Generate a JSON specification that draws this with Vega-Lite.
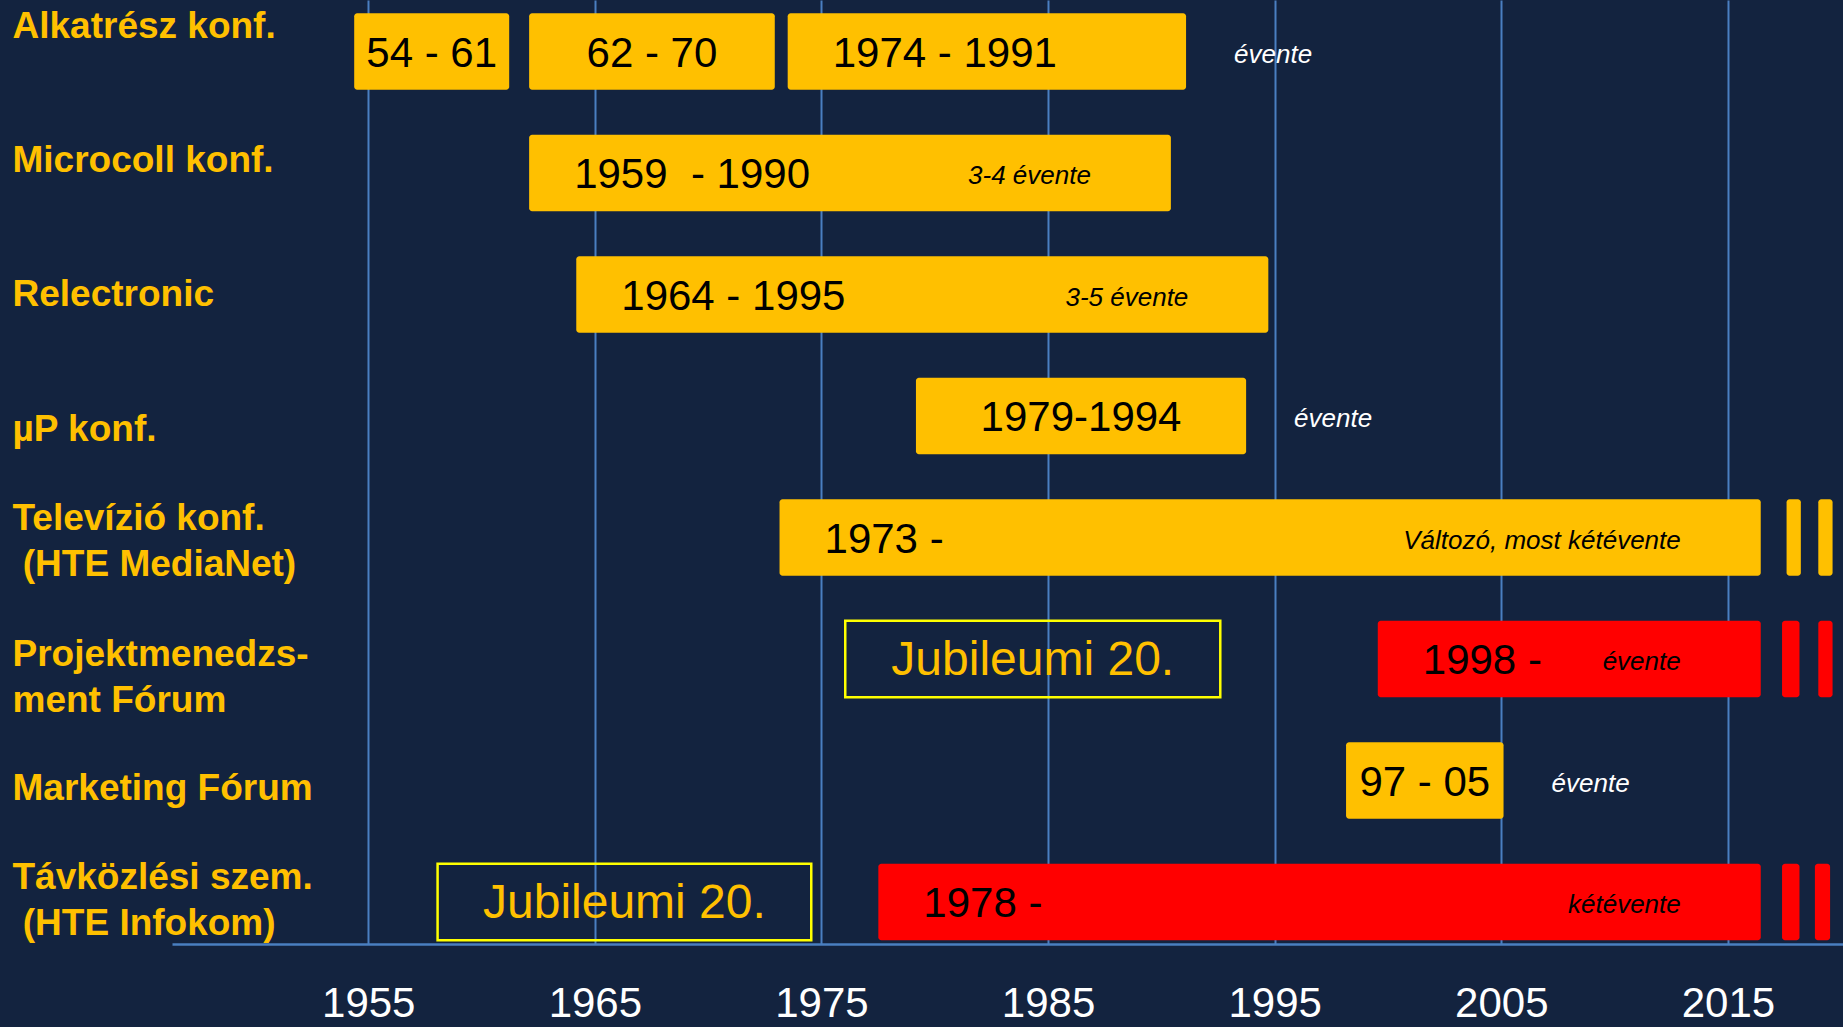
{
  "$schema": "https://vega.github.io/schema/vega-lite/v6.json",
  "width": 1671,
  "height": 944,
  "autosize": {"type": "none"},
  "padding": {"left": 172, "top": 0, "right": 0, "bottom": 83},
  "background": "#13233f",
  "config": {"view": {"stroke": null}, "font": "Liberation Sans"},
  "datasets": {
    "bars": [
      {"row": "Alkatrész konf.", "start": 1954.38, "end": 1961.22, "label": "54 - 61", "kiemelt": "nem"},
      {"row": "Alkatrész konf.", "start": 1962.1, "end": 1972.94, "label": "62 - 70", "kiemelt": "nem"},
      {"row": "Alkatrész konf.", "start": 1973.51, "end": 1991.09, "label": "1974 - 1991", "note": "évente", "kiemelt": "nem"},
      {"row": "Microcoll konf.", "start": 1962.1, "end": 1990.42, "label": "1959\u00a0 - 1990", "note": "3-4 évente", "kiemelt": "nem"},
      {"row": "Relectronic", "start": 1964.18, "end": 1994.72, "label": "1964 - 1995", "note": "3-5 évente", "kiemelt": "nem"},
      {"row": "µP konf.", "start": 1979.17, "end": 1993.74, "label": "1979-1994", "note": "évente", "kiemelt": "nem"},
      {"row": "Televízió konf.\n\u200b\u00a0(HTE MediaNet)", "start": 1973.15, "end": 2016.45, "label": "1973 -", "note": "Változó, most kétévente", "kiemelt": "nem"},
      {"row": "Televízió konf.\n\u200b\u00a0(HTE MediaNet)", "start": 2017.59, "end": 2018.22, "kiemelt": "nem"},
      {"row": "Televízió konf.\n\u200b\u00a0(HTE MediaNet)", "start": 2018.99, "end": 2019.62, "kiemelt": "nem"},
      {"row": "Projektmenedzs-\nment Fórum", "start": 1999.55, "end": 2016.45, "label": "1998 -", "note": "évente", "kiemelt": "igen"},
      {"row": "Projektmenedzs-\nment Fórum", "start": 2017.39, "end": 2018.16, "kiemelt": "igen"},
      {"row": "Projektmenedzs-\nment Fórum", "start": 2018.99, "end": 2019.62, "kiemelt": "igen"},
      {"row": "Marketing Fórum", "start": 1998.15, "end": 2005.1, "label": "97 - 05", "note": "évente", "kiemelt": "nem"},
      {"row": "Távközlési szem.\n\u200b\u00a0(HTE Infokom)", "start": 1977.51, "end": 2016.45, "label": "1978 -", "note": "kétévente", "kiemelt": "igen"},
      {"row": "Távközlési szem.\n\u200b\u00a0(HTE Infokom)", "start": 2017.39, "end": 2018.16, "kiemelt": "igen"},
      {"row": "Távközlési szem.\n\u200b\u00a0(HTE Infokom)", "start": 2018.84, "end": 2019.51, "kiemelt": "igen"}
    ],
    "jubilee": [
      {"row": "Projektmenedzs-\nment Fórum", "start": 1976.05, "end": 1992.6, "label": "Jubileumi 20."},
      {"row": "Távközlési szem.\n\u200b\u00a0(HTE Infokom)", "start": 1958.06, "end": 1974.55, "label": "Jubileumi 20."}
    ]
  },
  "encoding": {
    "y": {
      "field": "row",
      "type": "nominal",
      "title": null,
      "scale": {
        "domain": [
          "Alkatrész konf.",
          "Microcoll konf.",
          "Relectronic",
          "µP konf.",
          "Televízió konf.\n\u200b\u00a0(HTE MediaNet)",
          "Projektmenedzs-\nment Fórum",
          "Marketing Fórum",
          "Távközlési szem.\n\u200b\u00a0(HTE Infokom)"
        ],
        "paddingInner": 0.3712,
        "paddingOuter": 0.0704,
        "align": 0.78
      },
      "axis": {
        "title": null,
        "domain": false,
        "ticks": false,
        "grid": false,
        "labelAlign": "left",
        "labelBaseline": "middle",
        "labelPadding": 160,
        "labelFontSize": 37,
        "labelFontWeight": "bold",
        "labelColor": "#FFC000",
        "labelFont": "Liberation Sans",
        "labelExpr": "split(datum.label, '\\n')",
        "labelLineHeight": 46,
        "labelOffset": {
          "condition": [
            {"test": "indexof(datum.value, 'Alkatr') === 0", "value": -25},
            {"test": "indexof(datum.value, 'Microcoll') === 0", "value": -12},
            {"test": "indexof(datum.value, 'µP') === 0", "value": 14},
            {"test": "indexof(datum.value, 'Telev') === 0", "value": -19},
            {"test": "indexof(datum.value, 'Projekt') === 0", "value": -4},
            {"test": "indexof(datum.value, 'Marketing') === 0", "value": 8},
            {"test": "indexof(datum.value, 'Távk') === 0", "value": -24}
          ],
          "value": 0
        },
        "labelLimit": 0,
        "labelOverlap": false
      }
    }
  },
  "layer": [
    {
      "data": {"name": "bars"},
      "mark": {"type": "bar", "cornerRadius": 3},
      "encoding": {
        "x": {
          "field": "start",
          "type": "quantitative",
          "title": null,
          "scale": {"domain": [1946.34, 2020.08], "nice": false, "zero": false},
          "axis": {
            "values": [1955, 1965, 1975, 1985, 1995, 2005, 2015],
            "format": "d",
            "title": null,
            "grid": true,
            "gridColor": "#4a7fc1",
            "gridWidth": 2,
            "domain": true,
            "domainColor": "#4a7fc1",
            "domainWidth": 2.5,
            "ticks": false,
            "labelColor": "#ffffff",
            "labelFontSize": 42,
            "labelFont": "Liberation Sans",
            "labelPadding": 39,
            "labelFlush": false,
            "labelOverlap": false
          }
        },
        "x2": {"field": "end"},
        "color": {
          "field": "kiemelt",
          "type": "nominal",
          "scale": {"domain": ["nem", "igen"], "range": ["#FFC000", "#FF0000"]},
          "legend": null
        }
      }
    },
    {
      "data": {"name": "jubilee"},
      "mark": {"type": "bar", "fillOpacity": 0, "stroke": "#FFFF00", "strokeWidth": 2.5},
      "encoding": {
        "x": {"field": "start", "type": "quantitative", "title": null},
        "x2": {"field": "end"}
      }
    },
    {
      "data": {"name": "jubilee"},
      "transform": [{"fold": ["start", "end"], "as": ["k", "v"]}],
      "mark": {"type": "text", "align": "center", "baseline": "middle", "fontSize": 48, "color": "#FFC000", "font": "Liberation Sans", "dy": 2},
      "encoding": {
        "x": {"field": "v", "aggregate": "mean", "type": "quantitative", "title": null},
        "text": {"field": "label"}
      }
    },
    {
      "data": {"name": "bars"},
      "transform": [
        {"filter": {"field": "label", "oneOf": ["54 - 61", "62 - 70", "1979-1994", "97 - 05"]}},
        {"fold": ["start", "end"], "as": ["k", "v"]}
      ],
      "mark": {"type": "text", "align": "center", "baseline": "middle", "fontSize": 42, "color": "#000000", "font": "Liberation Sans", "dy": 2},
      "encoding": {
        "x": {"field": "v", "aggregate": "mean", "type": "quantitative", "title": null},
        "text": {"field": "label"}
      }
    },
    {
      "data": {"name": "bars"},
      "transform": [
        {"filter": {"field": "label", "oneOf": ["1974 - 1991", "1959\u00a0 - 1990", "1964 - 1995", "1973 -", "1998 -", "1978 -"]}}
      ],
      "mark": {"type": "text", "align": "left", "baseline": "middle", "fontSize": 42, "color": "#000000", "font": "Liberation Sans", "dx": 45, "dy": 2},
      "encoding": {
        "x": {"field": "start", "type": "quantitative", "title": null},
        "text": {"field": "label"}
      }
    },
    {
      "data": {"name": "bars"},
      "transform": [
        {"filter": "isValid(datum.note)"},
        {"filter": {"not": {"field": "row", "oneOf": ["Alkatrész konf.", "µP konf.", "Marketing Fórum"]}}}
      ],
      "mark": {"type": "text", "align": "right", "baseline": "middle", "fontSize": 26, "fontStyle": "italic", "color": "#000000", "font": "Liberation Sans", "dx": -80, "dy": 3},
      "encoding": {
        "x": {"field": "end", "type": "quantitative", "title": null},
        "text": {"field": "note"}
      }
    },
    {
      "data": {"name": "bars"},
      "transform": [
        {"filter": "isValid(datum.note)"},
        {"filter": {"field": "row", "oneOf": ["Alkatrész konf.", "µP konf.", "Marketing Fórum"]}}
      ],
      "mark": {"type": "text", "align": "left", "baseline": "middle", "fontSize": 26, "fontStyle": "italic", "color": "#ffffff", "font": "Liberation Sans", "dx": 48, "dy": 3},
      "encoding": {
        "x": {"field": "end", "type": "quantitative", "title": null},
        "text": {"field": "note"}
      }
    }
  ]
}
